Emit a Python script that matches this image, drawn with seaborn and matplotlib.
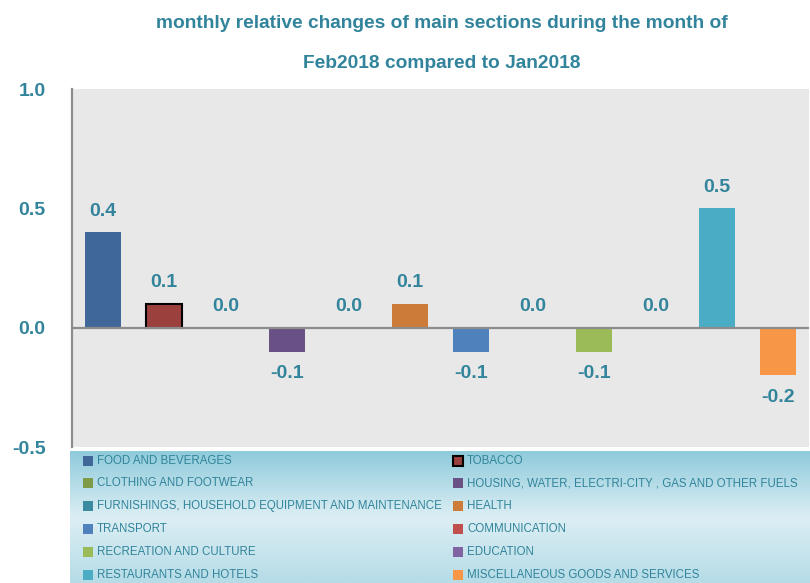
import numpy as np
import pandas as pd
import matplotlib
matplotlib.use("Agg")
import matplotlib.pyplot as plt
from matplotlib.patches import Rectangle
from matplotlib.colors import LinearSegmentedColormap
import seaborn as sns

# data
sections = [
    "FOOD AND BEVERAGES", "TOBACCO", "CLOTHING AND FOOTWEAR",
    "HOUSING, WATER, ELECTRI-CITY , GAS AND OTHER FUELS",
    "FURNISHINGS, HOUSEHOLD EQUIPMENT AND MAINTENANCE", "HEALTH",
    "TRANSPORT", "COMMUNICATION", "RECREATION AND CULTURE", "EDUCATION",
    "RESTAURANTS AND HOTELS", "MISCELLANEOUS GOODS AND SERVICES",
]
changes = [0.4, 0.1, 0.0, -0.1, 0.0, 0.1, -0.1, 0.0, -0.1, 0.0, 0.5, -0.2]
bar_colors = ["#3f6899", "#9c403d", "#7f9a48", "#695185", "#3a8ba0", "#cc7b38",
              "#4f81bd", "#c0504d", "#9bbb59", "#8064a2", "#4bacc6", "#f79646"]
y_ticks = [-0.5, 0.0, 0.5, 1.0]

title_text = "monthly relative changes of main sections during the month of\nFeb2018 compared to Jan2018"
teal = "#31849b"

sns.set_theme(style="white")
plt.rcParams["font.family"] = ["Liberation Sans", "DejaVu Sans"]

df = pd.DataFrame({"section": sections, "change": changes})

fig = plt.figure(figsize=(8.1, 5.83), dpi=100)
W, H = 810, 583
ax = fig.add_axes([72 / W, (H - 447) / H, (809 - 72) / W, (447 - 89) / H])
ax.set_facecolor("#e8e8e8")

sns.barplot(data=df, x="section", y="change", hue="section", palette=bar_colors,
            order=sections, hue_order=sections, width=0.59, legend=False,
            saturation=1, linewidth=0, ax=ax)

# tobacco bar has a black outline in the original
for patch, name in zip(ax.patches, sections):
    if name == "TOBACCO":
        patch.set_edgecolor("black")
        patch.set_linewidth(1.5)

# data labels
for i, v in enumerate(changes):
    if v >= 0:
        ax.annotate(f"{v:.1f}", (i, v), xytext=(0, 9), textcoords="offset points",
                    ha="center", va="bottom", fontsize=14, fontweight="bold", color=teal)
    else:
        ax.annotate(f"{v:.1f}", (i, v), xytext=(0, -10), textcoords="offset points",
                    ha="center", va="top", fontsize=14, fontweight="bold", color=teal)

ax.axhline(0, color="#8c8c8c", lw=1.6, zorder=1)
ax.set_ylim(-0.5, 1.0)
ax.set_xlim(-0.5, len(sections) - 0.5)
ax.set_yticks(y_ticks)
ax.set_yticklabels([f"{t:.1f}" for t in y_ticks], fontsize=14, fontweight="bold",
                   color=teal)
ax.tick_params(axis="y", length=0, pad=19)
ax.set_xticks([])
ax.set_xlabel("")
ax.set_ylabel("")
for s in ["top", "right", "bottom"]:
    ax.spines[s].set_visible(False)
ax.spines["left"].set_color("#8c8c8c")
ax.spines["left"].set_linewidth(1.6)

fig.text(442 / W, (H - 43.5) / H, title_text, ha="center", va="center",
         fontsize=13.8, fontweight="bold", color=teal, linespacing=2.75)

# legend panel with vertical gradient
lx0, ly0 = 70, 451
lw, lh = W - lx0, H - ly0
lax = fig.add_axes([lx0 / W, 0, lw / W, lh / H])
grad = LinearSegmentedColormap.from_list("g", ["#8fcbdb", "#dceef4", "#b5dce7"])
lax.imshow(np.linspace(0, 1, 100).reshape(-1, 1), cmap=grad, aspect="auto",
           extent=[0, lw, lh, 0])
lax.set_xlim(0, lw)
lax.set_ylim(lh, 0)
lax.axis("off")

row_step = 22.8
for i, (name, col) in enumerate(zip(sections, bar_colors)):
    r, c = divmod(i, 2)
    hx = 13 + c * 370
    cy = 9.5 + r * row_step
    edge = "black" if name == "TOBACCO" else col
    lax.add_patch(Rectangle((hx, cy - 5), 10, 10, facecolor=col, edgecolor=edge,
                            lw=1.5 if name == "TOBACCO" else 0))
    lax.text(hx + 14, cy, name, va="center", ha="left", fontsize=8.3,
             color=teal)

fig.savefig("out.png", dpi=100)
